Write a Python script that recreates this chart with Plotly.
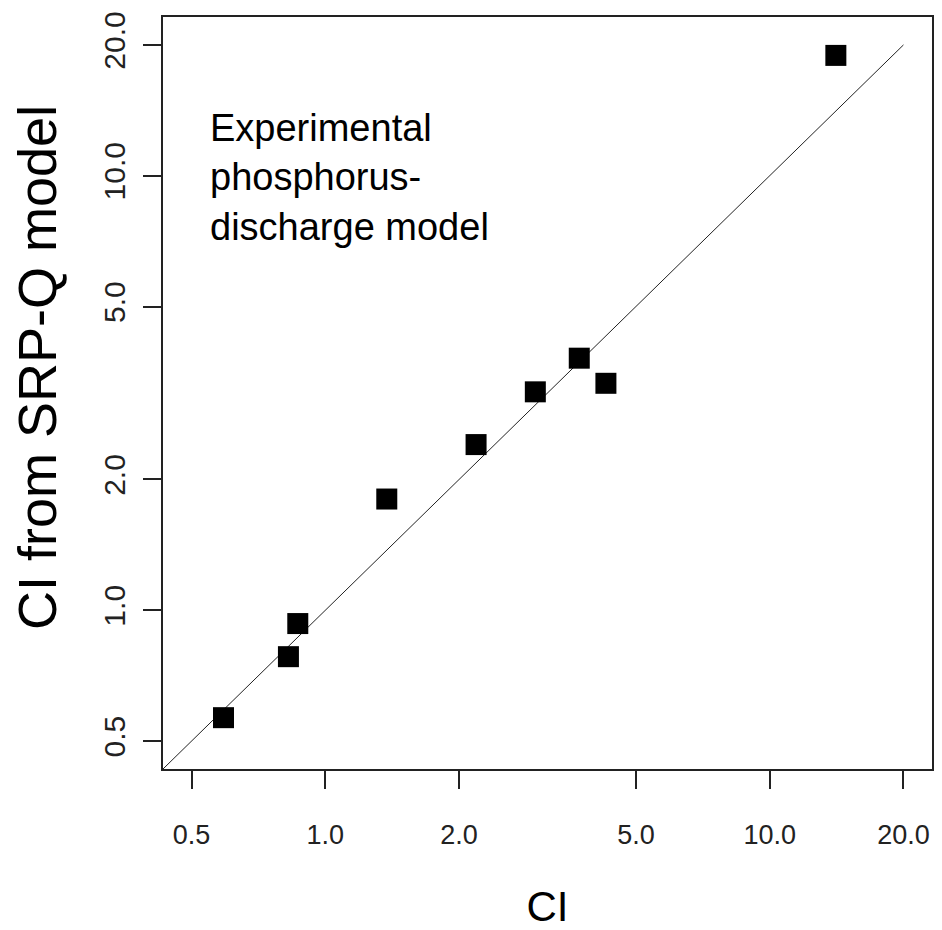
import plotly.graph_objects as go

# Data (log-log scatter)
ci_observed = [0.590, 0.826, 0.867, 1.375, 2.184, 2.969, 3.728, 4.280, 14.09]
ci_srpq_model = [0.566, 0.782, 0.932, 1.803, 2.406, 3.182, 3.803, 3.329, 18.92]

# 1:1 reference line
line_x = [0.43, 20.0]
line_y = [0.43, 20.0]

tick_vals = [0.5, 1, 2, 5, 10, 20]
tick_text = ["0.5", "1.0", "2.0", "5.0", "10.0", "20.0"]

y_title = "CI from SRP-Q model"
x_title = "CI"
annotation_text = "Experimental<br>phosphorus-<br>discharge model"

font_family = "Arial, Liberation Sans, sans-serif"

fig = go.Figure()
fig.add_trace(go.Scatter(
    x=line_x, y=line_y, mode="lines",
    line=dict(color="#222222", width=1),
    hoverinfo="skip", showlegend=False,
))
fig.add_trace(go.Scatter(
    x=ci_observed, y=ci_srpq_model, mode="markers",
    marker=dict(symbol="square", size=21, color="black", line=dict(width=0)),
    showlegend=False,
))

axis_common = dict(
    type="log",
    range=[-0.3653, 1.3653],
    tickvals=tick_vals,
    ticktext=tick_text,
    ticks="outside",
    ticklen=18,
    tickwidth=1.5,
    tickcolor="#222222",
    showline=True,
    linecolor="#222222",
    linewidth=1.5,
    mirror=True,
    showgrid=False,
    zeroline=False,
    ticklabeloverflow="allow",
)

fig.update_xaxes(
    **axis_common,
    tickfont=dict(family=font_family, size=27, color="#222222"),
    ticklabelstandoff=23,
    title=dict(text=x_title, font=dict(family=font_family, size=42, color="black"), standoff=44),
)
fig.update_yaxes(
    **axis_common,
    tickangle=-90,
    tickfont=dict(family=font_family, size=30, color="#222222"),
    ticklabelstandoff=6,
)

# y-axis title placed as rotated text (it sits above the plot centre in the reference)
fig.add_annotation(
    text=y_title,
    xref="paper", yref="paper",
    x=-0.163, y=0.534,
    xanchor="center", yanchor="middle",
    textangle=-90,
    showarrow=False,
    font=dict(family=font_family, size=54, color="black"),
)

fig.add_annotation(
    text=annotation_text,
    xref="paper", yref="paper",
    x=0.058, y=0.786,
    xanchor="left", yanchor="middle",
    align="left",
    showarrow=False,
    font=dict(family=font_family, size=38, color="black"),
)

# the page body adds an 8px margin, so the figure is sized to fit the window
fig.update_layout(
    width=934, height=922,
    margin=dict(l=155, r=10, t=3, b=161),
    paper_bgcolor="white",
    plot_bgcolor="white",
)

fig.write_html("out.html")
